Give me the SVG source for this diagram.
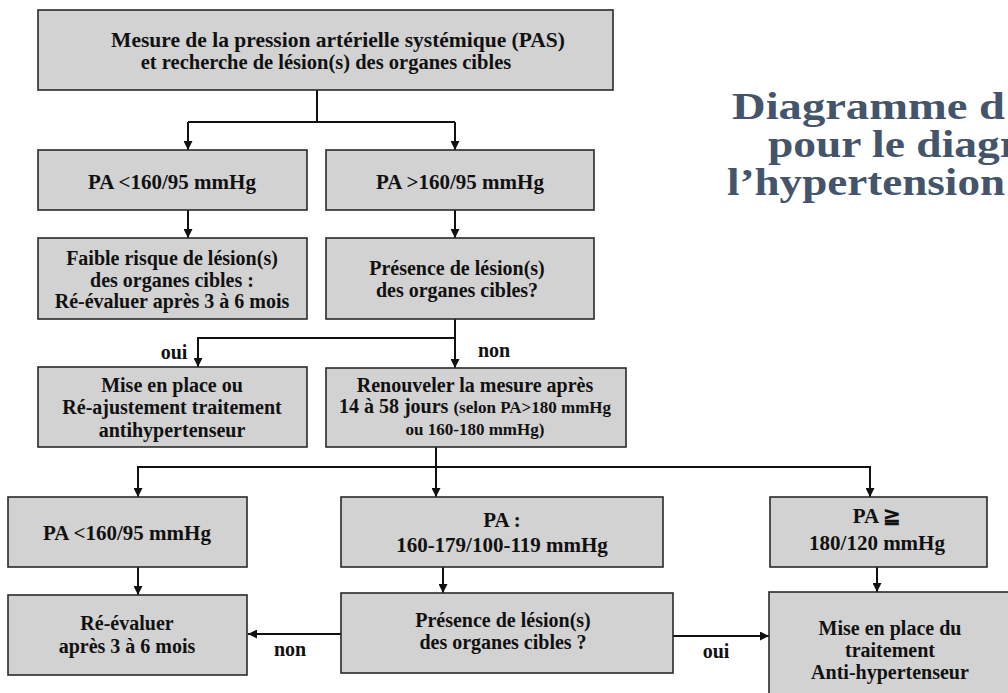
<svg xmlns="http://www.w3.org/2000/svg" width="1008" height="693" viewBox="0 0 1008 693">
<style>
.box{fill:#d2d2d2;stroke:#2a2a2a;stroke-width:1.6}
.t{font-family:"Liberation Serif","Times New Roman",serif;font-weight:bold;font-size:20px;fill:#111;text-anchor:middle}
.pa{font-size:21px}
.sm{font-size:17px}
.lbl{font-family:"Liberation Serif","Times New Roman",serif;font-weight:bold;font-size:20px;fill:#111;text-anchor:middle}
.ttl{font-family:"Liberation Serif","Times New Roman",serif;font-weight:bold;font-size:37px;fill:#44546a;text-anchor:start}
.c{fill:none;stroke:#111;stroke-width:2}
.a{marker-end:url(#ah)}
</style>
<defs>
<marker id="ah" viewBox="0 0 10 10" refX="10" refY="5" markerWidth="9" markerHeight="9" markerUnits="userSpaceOnUse" orient="auto">
<path d="M0,0 L10,5 L0,10 z" fill="#111"/>
</marker>
</defs>
<rect width="1008" height="693" fill="#fff"/>
<g id="title">
<text class="ttl" x="732" y="119" textLength="273" lengthAdjust="spacingAndGlyphs">Diagramme d</text>
<text class="ttl" x="768" y="157" textLength="252" lengthAdjust="spacingAndGlyphs">pour le diagr</text>
<text class="ttl" x="727" y="195" textLength="278" lengthAdjust="spacingAndGlyphs">l’hypertension</text>
</g>
<g id="connectors">
<path class="c" d="M317,90 V122"/>
<path class="c" d="M188,122 H455"/>
<path class="c a" d="M188,122 V150"/>
<path class="c a" d="M455,122 V150"/>
<path class="c a" d="M188,210 V238"/>
<path class="c a" d="M455,210 V238"/>
<path class="c a" d="M455,319 V368"/>
<path class="c a" d="M455,338 H198 V367"/>
<path class="c a" d="M436,447 V497"/>
<path class="c a" d="M436,467 H138 V497"/>
<path class="c a" d="M436,467 H870 V497"/>
<path class="c a" d="M138,567 V595"/>
<path class="c a" d="M443,567 V593"/>
<path class="c a" d="M877,567 V592"/>
<path class="c a" d="M341,634 H248"/>
<path class="c a" d="M673,636 H769"/>
<text class="lbl" x="174" y="359">oui</text>
<text class="lbl" x="494" y="357">non</text>
<text class="lbl" x="290" y="656">non</text>
<text class="lbl" x="716" y="658">oui</text>
</g>
<g id="n1">
<rect class="box" x="38" y="10" width="575" height="80"/>
<text class="t" style="font-size:21.5px" x="338" y="47">Mesure de la pression artérielle systémique (PAS)</text>
<text class="t" style="font-size:20.5px" x="326" y="69">et recherche de lésion(s) des organes cibles</text>
</g>
<g id="n2">
<rect class="box" x="38" y="150" width="269" height="60"/>
<text class="t pa" x="172" y="189">PA &lt;160/95 mmHg</text>
</g>
<g id="n3">
<rect class="box" x="326" y="150" width="268" height="60"/>
<text class="t pa" x="460" y="189">PA &gt;160/95 mmHg</text>
</g>
<g id="n4">
<rect class="box" x="38" y="238" width="269" height="81"/>
<text class="t" x="172" y="265">Faible risque de lésion(s)</text>
<text class="t" x="172" y="287">des organes cibles :</text>
<text class="t" x="172" y="308">Ré-évaluer après 3 à 6 mois</text>
</g>
<g id="n5">
<rect class="box" x="326" y="238" width="268" height="81"/>
<text class="t" x="457" y="275">Présence de lésion(s)</text>
<text class="t" x="457" y="297">des organes cibles?</text>
</g>
<g id="n6">
<rect class="box" x="38" y="367" width="269" height="80"/>
<text class="t" x="172" y="392">Mise en place ou</text>
<text class="t" x="172" y="414">Ré-ajustement traitement</text>
<text class="t" x="172" y="437">antihypertenseur</text>
</g>
<g id="n7">
<rect class="box" x="326" y="368" width="300" height="79"/>
<text class="t" x="475" y="392">Renouveler la mesure après</text>
<text class="t" x="475" y="413">14 à 58 jours <tspan class="sm">(selon PA&gt;180 mmHg</tspan></text>
<text class="t sm" x="475" y="435">ou 160-180 mmHg)</text>
</g>
<g id="n8">
<rect class="box" x="8" y="497" width="239" height="70"/>
<text class="t pa" x="127" y="540">PA &lt;160/95 mmHg</text>
</g>
<g id="n9">
<rect class="box" x="341" y="497" width="322" height="70"/>
<text class="t pa" x="502" y="527">PA :</text>
<text class="t pa" x="502" y="552">160-179/100-119 mmHg</text>
</g>
<g id="n10">
<rect class="box" x="770" y="497" width="217" height="70"/>
<text class="t pa" x="877" y="523">PA ≧</text>
<text class="t pa" x="877" y="550">180/120 mmHg</text>
</g>
<g id="n11">
<rect class="box" x="8" y="595" width="239" height="80"/>
<text class="t" x="127" y="630">Ré-évaluer</text>
<text class="t" x="127" y="653">après 3 à 6 mois</text>
</g>
<g id="n12">
<rect class="box" x="341" y="593" width="332" height="80"/>
<text class="t" x="503" y="627">Présence de lésion(s)</text>
<text class="t" x="503" y="649">des organes cibles ?</text>
</g>
<g id="n13">
<rect class="box" x="769" y="592" width="250" height="110"/>
<text class="t" x="890" y="635">Mise en place du</text>
<text class="t" x="890" y="657">traitement</text>
<text class="t" x="890" y="679">Anti-hypertenseur</text>
</g>
</svg>
